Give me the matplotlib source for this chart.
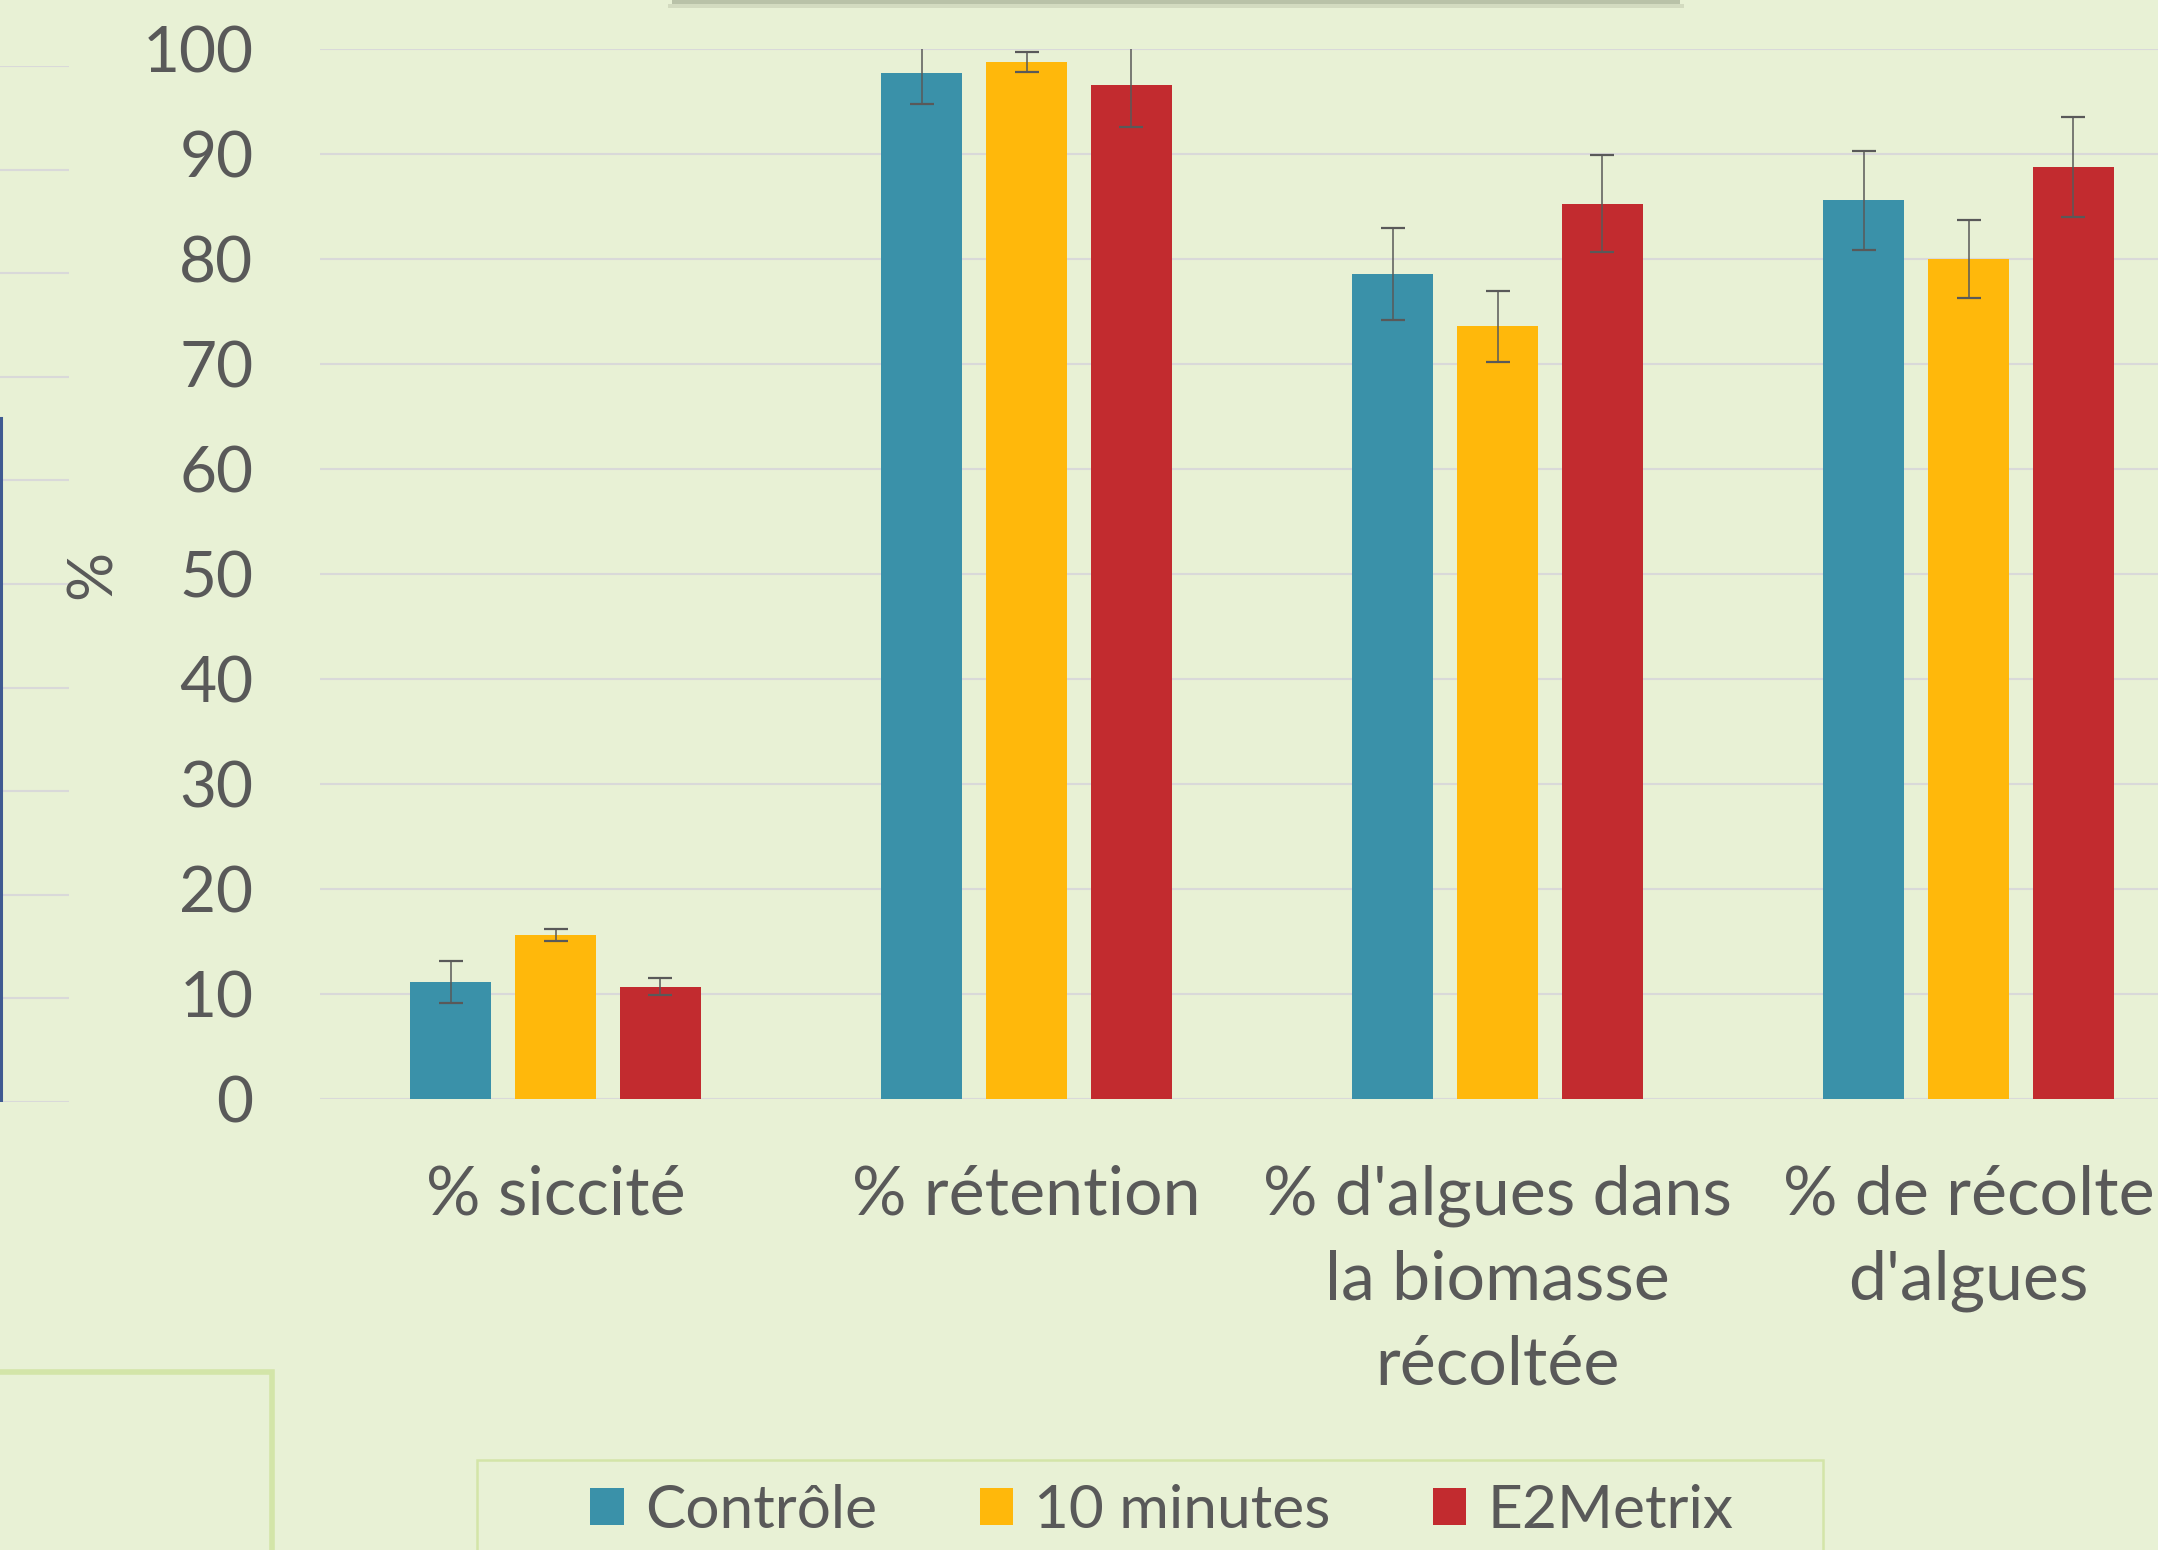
import matplotlib
matplotlib.use("Agg")
import matplotlib.pyplot as plt
from matplotlib.patches import Rectangle
import numpy as np

# data
categories = ["% siccité", "% rétention", "% d'algues dans\nla biomasse\nrécoltée", "% de récolte\nd'algues"]
series = ["Contrôle", "10 minutes", "E2Metrix"]
controle = [11.1, 97.7, 78.6, 85.6]
controle_err = [2.0, 2.9, 4.4, 4.75]
min10 = [15.6, 98.8, 73.6, 80.0]
min10_err = [0.55, 0.95, 3.4, 3.7]
e2metrix = [10.7, 96.6, 85.3, 88.8]
e2metrix_err = [0.8, 4.0, 4.6, 4.75]
yticks = [0, 10, 20, 30, 40, 50, 60, 70, 80, 90, 100]
left_bar = [66]  # partial bar of the neighbouring chart

colors = ["#3A91A9", "#FFB80B", "#C22B2F"]
bg = "#E8F1D5"
txt = "#595959"
grid = "#D9D9D9"
frame = "#D3E5A8"

plt.rcParams['font.family'] = ['Lato', 'DejaVu Sans']

W, H = 2158, 1550
fig = plt.figure(figsize=(W / 100, H / 100), dpi=100, facecolor=bg)


def fb(x0, y0, x1, y1):
    # pixel box (top-left origin) -> figure fraction rect
    return [x0 / W, 1 - y1 / H, (x1 - x0) / W, (y1 - y0) / H]


# neighbouring chart, cut at the left border
axl = fig.add_axes(fb(-300, 66, 69, 1102))
axl.set_facecolor("none")
axl.set_xlim(0, 1)
axl.set_ylim(0, 100)
axl.bar([0.616], left_bar, width=0.4, color=bg, edgecolor="#3F5A91", linewidth=2.2)
axl.set_yticks(yticks)
axl.yaxis.grid(True, color=grid, linewidth=1.5)
axl.set_axisbelow(True)
axl.set_xticks([])
axl.set_yticklabels([])
axl.tick_params(length=0)
for s in axl.spines.values():
    s.set_visible(False)

# main chart
ax = fig.add_axes(fb(320, 49.3, 320 + 4 * 471, 1099))
ax.set_facecolor("none")
x = np.arange(len(categories))
w = 0.172
off = 0.222
vals = [controle, min10, e2metrix]
errs = [controle_err, min10_err, e2metrix_err]
handles = []
for i in range(3):
    b = ax.bar(x + (i - 1) * off, vals[i], width=w, color=colors[i], label=series[i], zorder=2)
    handles.append(b)
    ax.errorbar(x + (i - 1) * off, vals[i], yerr=errs[i], fmt="none", ecolor=txt,
                elinewidth=1.1, capsize=8.5, capthick=1.6, zorder=3)

ax.set_xlim(-0.5, 3.5)
ax.set_ylim(0, 100)
ax.set_yticks(yticks)
ax.yaxis.grid(True, color=grid, linewidth=1.5, zorder=0)
ax.set_axisbelow(True)
for s in ax.spines.values():
    s.set_visible(False)
ax.tick_params(length=0, labelcolor=txt)
ax.tick_params(axis="y", pad=48, labelsize=46)
ax.tick_params(axis="x", pad=47, labelsize=49)
ax.set_xticks(x)
ax.set_xticklabels(categories, linespacing=1.46)
ax.set_ylabel("%", fontsize=44, color=txt, labelpad=15)

# legend box and legend
fig.add_artist(Rectangle((477 / W, -0.05), (1823 - 477) / W, 0.05 + 1 - 1460 / H,
                         transform=fig.transFigure, facecolor="none", edgecolor=frame, linewidth=1.8))
leg = fig.legend(handles=handles, loc="center", bbox_to_anchor=(1162 / W, 1 - 1511 / H), ncol=3,
                 frameon=False, fontsize=43.5, handlelength=0.55, handleheight=0.55,
                 handletextpad=0.35, columnspacing=1.7)
for t in leg.get_texts():
    t.set_color(txt)

# lower-left box of the slide
fig.add_artist(Rectangle((-0.05, -0.05), 0.05 + 272 / W, 0.05 + 1 - 1372 / H,
                         transform=fig.transFigure, facecolor="none", edgecolor=frame, linewidth=4))

# shadow of the title box at the top
fig.add_artist(Rectangle((672 / W, 1 - 4 / H), (1680 - 672) / W, 0.01,
                         transform=fig.transFigure, facecolor="#B9C2A8", edgecolor="none"))
fig.add_artist(Rectangle((668 / W, 1 - 8 / H), (1684 - 668) / W, 4 / H,
                         transform=fig.transFigure, facecolor="#D3DBC0", edgecolor="none"))

fig.savefig("out.png", dpi=100, facecolor=bg)
